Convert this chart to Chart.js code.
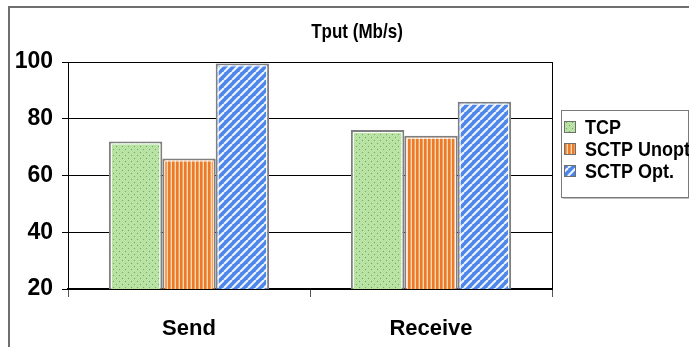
<!DOCTYPE html>
<html>
<head>
<meta charset="utf-8">
<script src="https://cdn.jsdelivr.net/npm/chart.js@4"></script>
<style>
  html, body { margin: 0; padding: 0; background: #fff; }
  #wrap { position: relative; width: 689px; height: 347px; }
</style>
</head>
<body>
<div id="wrap"><canvas id="c" width="689" height="347"></canvas></div>
<script>
// Throughput per direction, Mb/s
const categories = ['Send', 'Receive'];
const seriesNames = ['TCP', 'SCTP Unopt', 'SCTP Opt.'];
const tcpValues = [72, 76];
const sctpUnoptValues = [66, 74];
const sctpOptValues = [99.5, 86];
const yTicks = [20, 40, 60, 80, 100];
const chartTitle = 'Tput (Mb/s)';

const FONT = "'Liberation Sans', Arial, sans-serif";

// --- fill patterns -------------------------------------------------------
function makeTile(w, h, paint) {
  const t = document.createElement('canvas');
  t.width = w; t.height = h;
  paint(t.getContext('2d'), w, h);
  return document.getElementById('c').getContext('2d').createPattern(t, 'repeat');
}

// green with a fine dotted grid
const dotsGreen = makeTile(6, 6, (g) => {
  g.fillStyle = '#abdb95'; g.fillRect(0, 0, 6, 6);
  g.fillStyle = '#c4e9b3';
  for (let y = 0; y < 6; y++) for (let x = (y % 2); x < 6; x += 2) g.fillRect(x, y, 1, 1);
  g.fillStyle = '#74b45e';
  g.fillRect(2, 2, 1, 1); g.fillRect(5, 5, 1, 1);
});

// orange vertical stripes
const stripesOrange = makeTile(4, 4, (g) => {
  g.fillStyle = '#fcd8b2'; g.fillRect(0, 0, 4, 4);
  g.fillStyle = '#ec7a28'; g.fillRect(0, 0, 2.6, 4);
});

// blue diagonal stripes
const stripesBlue = makeTile(8, 8, (g) => {
  g.fillStyle = '#4d86ea'; g.fillRect(0, 0, 8, 8);
  g.strokeStyle = '#eef3ff'; g.lineWidth = 2.2;
  for (let k = -8; k <= 16; k += 8) {
    g.beginPath(); g.moveTo(k, 8); g.lineTo(k + 8, 0); g.stroke();
  }
});

const fills = [dotsGreen, stripesOrange, stripesBlue];

// text slightly stretched vertically, like the heavy narrow office-chart lettering
function tallText(ctx, text, x, y, sy) {
  ctx.save();
  ctx.translate(x, y);
  ctx.scale(1, sy);
  ctx.fillText(text, 0, 0);
  ctx.restore();
}

// thin white rim just inside each bar outline
const barRim = {
  id: 'barRim',
  afterDatasetsDraw(chart) {
    const ctx = chart.ctx;
    const bottom = chart.chartArea.bottom - 1;
    ctx.save();
    ctx.strokeStyle = '#ffffff';
    ctx.lineWidth = 1;
    chart.data.datasets.forEach((ds, i) => {
      chart.getDatasetMeta(i).data.forEach((bar) => {
        const p = bar.getProps(['x', 'y', 'base', 'width'], true);
        const l = p.x - p.width / 2 + 2.5, r = p.x + p.width / 2 - 2.5;
        const t = p.y + 2.5, b = Math.min(p.base, bottom);
        ctx.beginPath();
        ctx.moveTo(l, b); ctx.lineTo(l, t); ctx.lineTo(r, t); ctx.lineTo(r, b);
        ctx.stroke();
      });
    });
    ctx.restore();
  }
};

// --- decorations drawn around the plot ------------------------------------
const frame = {
  id: 'frame',
  beforeDraw(chart) {
    const ctx = chart.ctx;
    ctx.save();
    ctx.fillStyle = '#fff';
    ctx.fillRect(0, 0, chart.width, chart.height);
    ctx.strokeStyle = '#6f6f6f';
    ctx.lineWidth = 2;
    ctx.strokeRect(9, 7, chart.width + 20, chart.height + 20);
    ctx.restore();
  },
  afterDraw(chart) {
    const ctx = chart.ctx;
    ctx.save();
    // title
    ctx.fillStyle = '#000';
    ctx.font = 'bold 17px ' + FONT;
    ctx.textAlign = 'center';
    ctx.textBaseline = 'middle';
    tallText(ctx, chartTitle, 357, 32, 1.18);

    // legend box
    const bx = 561.5, by = 110.5, bw = 127, bh = 87;
    ctx.fillStyle = '#fff';
    ctx.fillRect(bx, by, bw, bh);
    ctx.strokeStyle = '#7a7a7a';
    ctx.lineWidth = 1;
    ctx.strokeRect(bx, by, bw, bh);
    ctx.strokeStyle = '#bdbdbd';
    ctx.beginPath();
    ctx.moveTo(bx + 1, by + bh + 1); ctx.lineTo(bx + bw + 1, by + bh + 1);
    ctx.stroke();

    ctx.font = 'bold 18px ' + FONT;
    ctx.textAlign = 'left';
    chart.data.datasets.forEach((ds, i) => {
      const cy = 127 + i * 22;
      ctx.fillStyle = ds.backgroundColor;
      ctx.fillRect(565, cy - 5, 10, 10);
      ctx.strokeStyle = '#6f6f6f';
      ctx.strokeRect(564.5, cy - 5.5, 11, 11);
      ctx.fillStyle = '#000';
      tallText(ctx, ds.label, 585, cy + 1, 1.15);
    });
    ctx.restore();
  }
};

new Chart(document.getElementById('c'), {
  type: 'bar',
  data: {
    labels: categories,
    datasets: [
      { label: seriesNames[0], data: tcpValues, backgroundColor: fills[0] },
      { label: seriesNames[1], data: sctpUnoptValues, backgroundColor: fills[1] },
      { label: seriesNames[2], data: sctpOptValues, backgroundColor: fills[2] }
    ]
  },
  options: {
    responsive: false,
    animation: false,
    devicePixelRatio: 1,
    layout: { padding: { left: 0, right: 137, top: 62, bottom: 0 } },
    datasets: {
      bar: {
        categoryPercentage: 0.662,
        barPercentage: 1,
        borderColor: '#7f7f7f',
        borderWidth: 2
      }
    },
    plugins: {
      legend: { display: false },
      title: { display: false },
      tooltip: { enabled: false }
    },
    scales: {
      x: {
        offset: true,
        afterFit: (s) => { s.height = 58; },
        grid: {
          offset: true,
          drawOnChartArea: false,
          drawTicks: true,
          tickLength: 8,
          color: '#555'
        },
        border: { display: true, color: '#000', width: 2 },
        ticks: {
          color: '#000',
          padding: 19,
          font: { family: FONT, size: 22, weight: 'bold' }
        }
      },
      y: {
        min: 20,
        max: 100,
        afterFit: (s) => { s.width = 68; },
        afterBuildTicks: (s) => { s.ticks = yTicks.map(v => ({ value: v })); },
        grid: {
          color: '#000',
          lineWidth: 1,
          drawTicks: true,
          tickLength: 6
        },
        border: { display: true, color: '#000', width: 1 },
        ticks: {
          color: '#000',
          padding: 9,
          font: { family: FONT, size: 23, weight: 'bold' }
        }
      },
      yRight: {
        position: 'right',
        min: 20,
        max: 100,
        afterFit: (s) => { s.width = 0; },
        grid: { drawOnChartArea: false, drawTicks: false },
        border: { display: true, color: '#000', width: 1 },
        ticks: { display: false }
      }
    }
  },
  plugins: [barRim, frame]
});
</script>
</body>
</html>
